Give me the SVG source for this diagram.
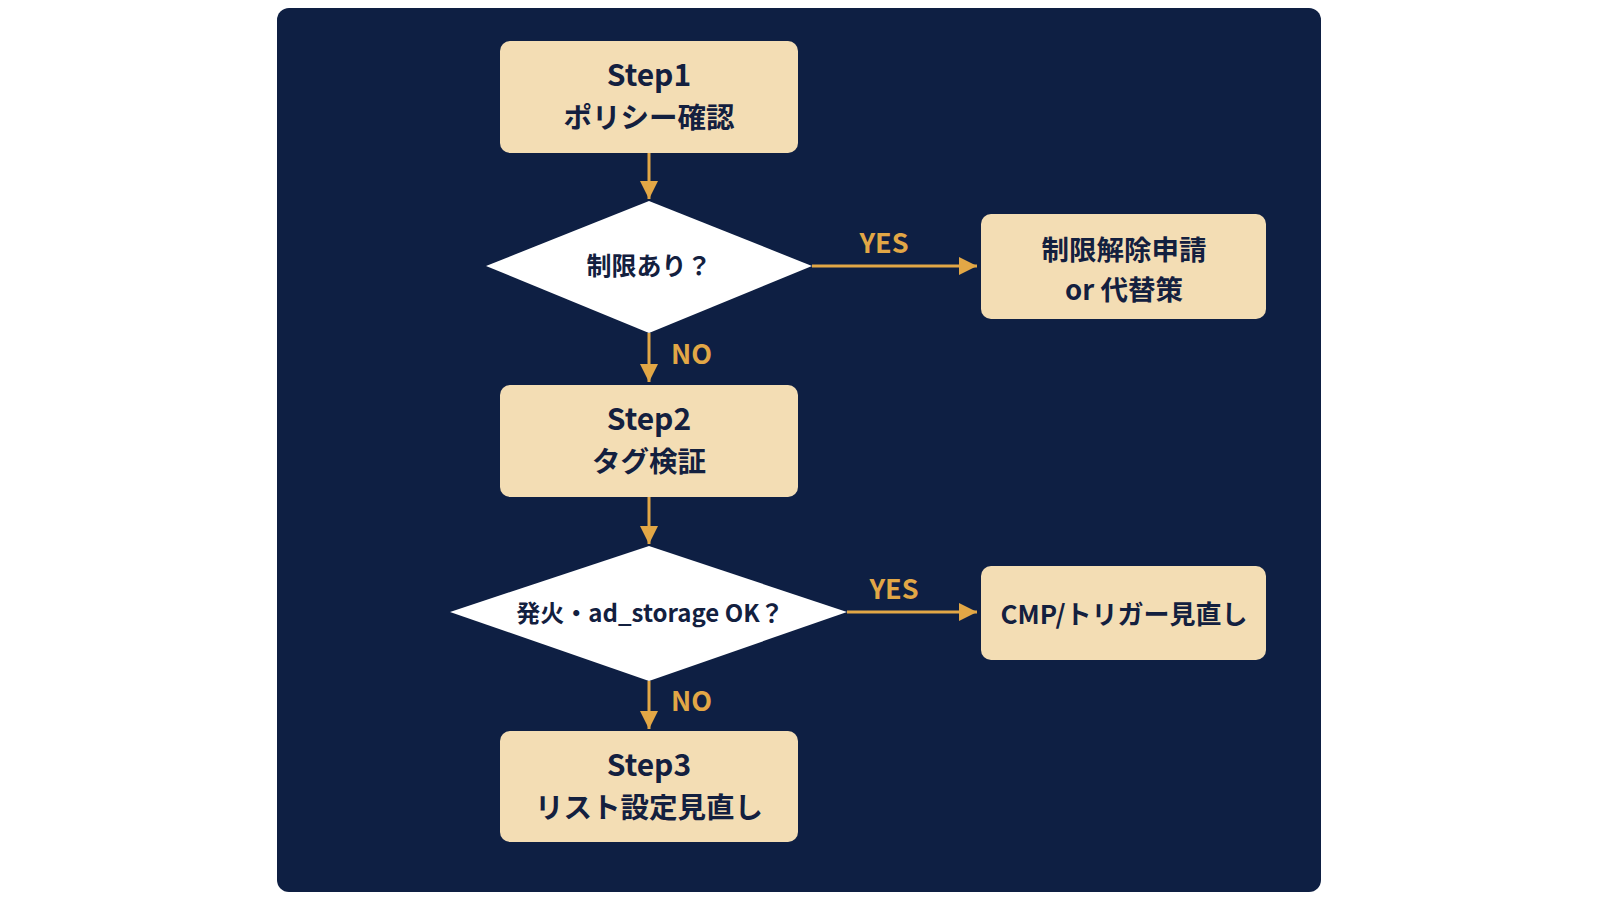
<svg xmlns="http://www.w3.org/2000/svg" width="1600" height="900" viewBox="0 0 1600 900">
<defs>
<marker id="ah" viewBox="0 0 10 10" refX="10" refY="5" markerWidth="6" markerHeight="6" markerUnits="strokeWidth" orient="auto">
<path d="M0,0 L10,5 L0,10 Z" fill="#E2A746"/>
</marker>
</defs>
<style>
.box{fill:#F3DDB4;}
.dia{fill:#FFFFFF;}
.t{font-family:"Noto Sans CJK JP","Noto Sans",sans-serif;font-weight:700;fill:#13203F;text-anchor:middle;dominant-baseline:central;}
.lbl{font-family:"Noto Sans CJK JP","Noto Sans",sans-serif;font-weight:700;fill:#E2A746;font-size:27px;dominant-baseline:central;}
.c{stroke:#E2A746;stroke-width:3;fill:none;marker-end:url(#ah);}
</style>
<rect width="1600" height="900" fill="#FFFFFF"/>
<rect x="277" y="8" width="1044" height="884" rx="12" fill="#0E1F43"/>
<g id="connectors">
<line class="c" x1="649" y1="153" x2="649" y2="199"/>
<line class="c" x1="812" y1="266" x2="977" y2="266"/>
<line class="c" x1="649" y1="333" x2="649" y2="382"/>
<line class="c" x1="649" y1="497" x2="649" y2="544"/>
<line class="c" x1="847" y1="612" x2="977" y2="612"/>
<line class="c" x1="649" y1="681" x2="649" y2="729"/>
<text class="lbl" x="884" y="241" text-anchor="middle">YES</text>
<text class="lbl" x="894" y="587" text-anchor="middle">YES</text>
<text class="lbl" x="671" y="352">NO</text>
<text class="lbl" x="671" y="699">NO</text>
</g>
<g id="step1">
<rect class="box" x="500" y="41" width="298" height="112" rx="10"/>
<text class="t" x="649" y="73" font-size="30">Step1</text>
<text class="t" x="649" y="115" font-size="28.5">ポリシー確認</text>
</g>
<g id="decision1">
<polygon class="dia" points="649,201 812,266 649,333 486,266"/>
<text class="t" x="649" y="264" font-size="25">制限あり？</text>
</g>
<g id="relief">
<rect class="box" x="981" y="214" width="285" height="105" rx="10"/>
<text class="t" x="1124" y="248" font-size="27.5">制限解除申請</text>
<text class="t" x="1124" y="288" font-size="27.5">or 代替策</text>
</g>
<g id="step2">
<rect class="box" x="500" y="385" width="298" height="112" rx="10"/>
<text class="t" x="649" y="417" font-size="30">Step2</text>
<text class="t" x="649" y="459" font-size="28.5">タグ検証</text>
</g>
<g id="decision2">
<polygon class="dia" points="649,546 847,612 649,681 450,612"/>
<text class="t" x="650" y="611" font-size="24">発火・ad_storage OK？</text>
</g>
<g id="cmp">
<rect class="box" x="981" y="566" width="285" height="94" rx="10"/>
<text class="t" x="1124" y="612" font-size="26">CMP/トリガー見直し</text>
</g>
<g id="step3">
<rect class="box" x="500" y="731" width="298" height="111" rx="10"/>
<text class="t" x="649" y="763" font-size="30">Step3</text>
<text class="t" x="649" y="805" font-size="28.5">リスト設定見直し</text>
</g>
</svg>
